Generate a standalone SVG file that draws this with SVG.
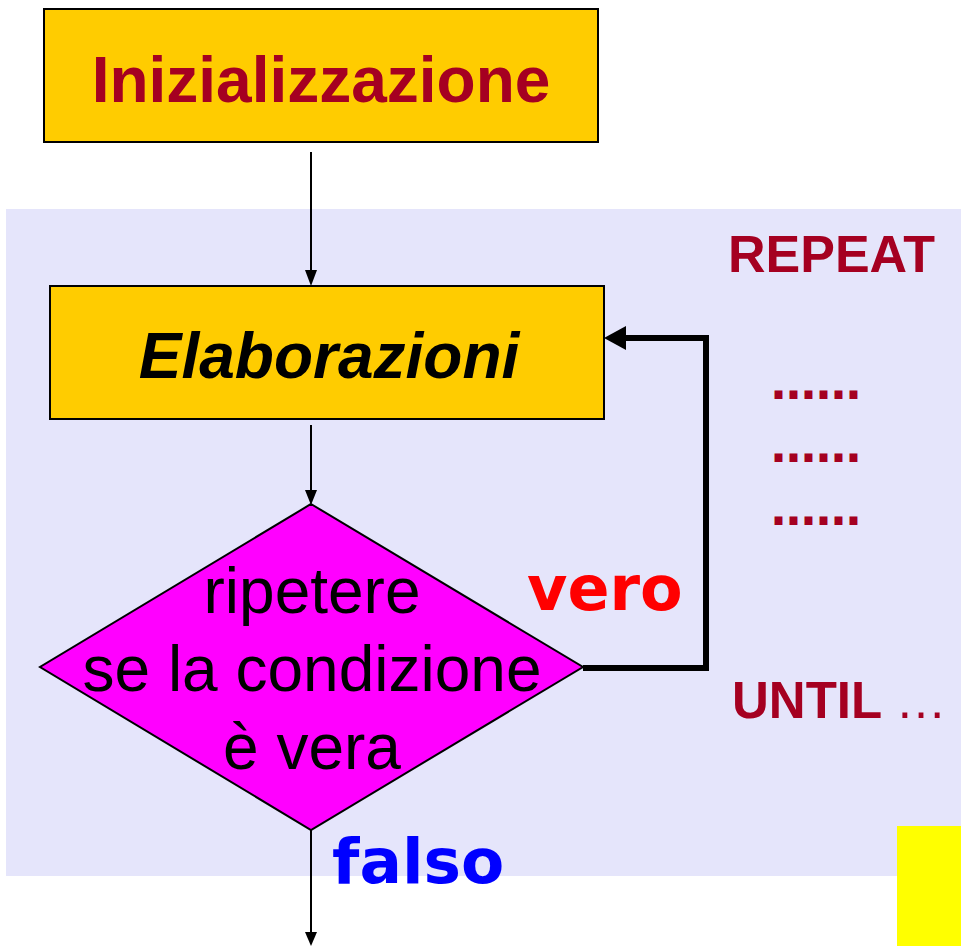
<svg xmlns="http://www.w3.org/2000/svg" width="961" height="946" viewBox="0 0 961 946">
<style>
.box{fill:#FFCC00;stroke:#000;stroke-width:2}
.thin{stroke:#000;stroke-width:2;fill:none}
.thick{stroke:#000;stroke-width:6;fill:none}
.head{fill:#000}
.kw{font-family:"Liberation Sans",Arial,sans-serif;font-weight:bold;fill:#A50021}
.dots{font-family:"DejaVu Sans",sans-serif;font-weight:bold;fill:#A50021;font-size:45px}
.dj{font-family:"DejaVu Sans",sans-serif;font-weight:bold}
.cond{font-family:"Liberation Sans",Arial,sans-serif;font-size:64px;fill:#000}
</style>
<rect x="0" y="0" width="961" height="946" fill="#fff"/>
<rect id="panel" x="6" y="209" width="955" height="667" fill="#E5E5FB"/>
<rect id="yellow" x="897" y="826" width="64" height="120" fill="#FFFF00"/>

<g id="connectors">
<line class="thin" x1="311" y1="152" x2="311" y2="272"/>
<path class="head" d="M305,270 L317,270 L311,286 Z"/>
<line class="thin" x1="311" y1="425" x2="311" y2="492"/>
<path class="head" d="M305,490 L317,490 L311,505 Z"/>
<line class="thin" x1="311" y1="830" x2="311" y2="934"/>
<path class="head" d="M305,932 L317,932 L311,946 Z"/>
<polyline class="thick" points="583,668 706,668 706,338 622,338"/>
<path class="head" d="M604,338 L626,326 L626,350 Z"/>
</g>

<g id="init">
<rect class="box" x="44" y="9" width="554" height="133"/>
<text class="kw" x="321" y="102" font-size="64" text-anchor="middle">Inizializzazione</text>
</g>

<g id="elab">
<rect class="box" x="50" y="286" width="554" height="133"/>
<text x="329" y="378" font-family="Liberation Sans, Arial, sans-serif" font-weight="bold" font-style="italic" font-size="64" text-anchor="middle" fill="#000">Elaborazioni</text>
</g>

<g id="decision">
<polygon points="311,504 583,667 311,830 40,667" fill="#FF00FF" stroke="#000" stroke-width="2"/>
<text class="cond" text-anchor="middle" x="312" y="613">ripetere</text>
<text class="cond" text-anchor="middle" x="312" y="691">se la condizione</text>
<text class="cond" text-anchor="middle" x="312" y="769">è vera</text>
</g>

<g id="labels">
<text class="dj" x="527" y="610" font-size="62" fill="#FF0000">vero</text>
<text class="dj" x="332" y="883" font-size="63" fill="#0000FF">falso</text>
<text class="kw" x="728" y="272" font-size="52">REPEAT</text>
<text class="dots" x="771" y="399">……</text>
<text class="dots" x="771" y="462">……</text>
<text class="dots" x="771" y="525">……</text>
<text class="kw" x="732" y="718" font-size="51">UNTIL <tspan font-weight="normal">…</tspan></text>
</g>
</svg>
